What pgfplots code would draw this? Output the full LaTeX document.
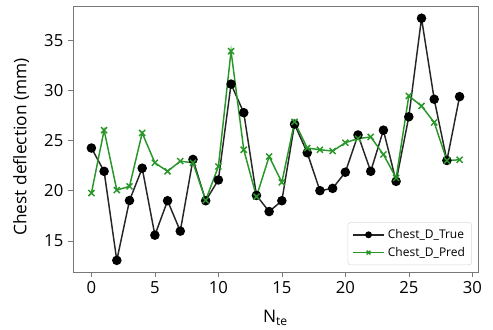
\documentclass[border=0pt]{standalone}
\usepackage{fontspec}
\setmainfont{Open Sans}
\usepackage{pgfplots}
\pgfplotsset{compat=1.18}
\definecolor{tgreen}{RGB}{40,150,40}
\definecolor{frame}{RGB}{120,120,120}
\begin{document}
\begin{tikzpicture}
\begin{axis}[
  scale only axis,
  width=303.75pt, height=199.5pt,
  xmin=-1.45, xmax=30.45,
  ymin=11.9, ymax=38.4,
  xtick={0,5,...,30},
  ytick={15,20,...,35},
  tick align=outside,
  tick pos=left,
  major tick length=3.75pt,
  axis line style={frame},
  every tick/.style={frame},
  /pgf/number format/assume math mode=true,
  ticklabel style={font=\fontsize{12.5pt}{14pt}\selectfont},
  label style={font=\fontsize{13pt}{15pt}\selectfont},
  xlabel={N\textsubscript{te}},
  ylabel={Chest deflection (mm)},
  xlabel style={at={(axis description cs:0.5,0)}, anchor=center, yshift=-34.5pt},
  ylabel style={at={(axis description cs:-0.128,0.47)}, anchor=center},
  legend style={at={(0.985,0.026)}, anchor=south east, draw=black!15, rounded corners=2pt,
    font=\fontsize{9pt}{11pt}\selectfont, row sep=1pt, inner sep=3pt},
  legend cell align=left,
  legend image code/.code={\draw[mark repeat=2,mark phase=2] plot coordinates {(0cm,0cm)(0.42cm,0cm)(0.84cm,0cm)};},
  legend image post style={mark size=2pt},
]
\addplot[black!85, line width=1.1pt, mark=*, mark size=3pt, mark options={fill=black, draw=black}]
 coordinates {
(0,24.25)(1,21.93)(2,13.06)(3,19.02)(4,22.24)(5,15.57)(6,19.0)(7,15.97)(8,23.11)(9,19.0)
(10,21.07)(11,30.62)(12,27.77)(13,19.53)(14,17.92)(15,19.0)(16,26.63)(17,23.78)(18,20.0)(19,20.23)
(20,21.84)(21,25.55)(22,21.93)(23,26.03)(24,20.93)(25,27.36)(26,37.18)(27,29.11)(28,23.01)(29,29.37)
};
\addlegendentry{Chest\_D\_True}
\addplot[tgreen, line width=1.1pt, mark=x, mark size=3.2pt]
 coordinates {
(0,19.76)(1,26.03)(2,20.06)(3,20.43)(4,25.75)(5,22.78)(6,21.93)(7,22.94)(8,22.78)(9,19.05)
(10,22.41)(11,33.9)(12,24.08)(13,19.4)(14,23.41)(15,20.83)(16,26.86)(17,24.25)(18,24.08)(19,23.95)
(20,24.78)(21,25.19)(22,25.35)(23,23.61)(24,21.27)(25,29.44)(26,28.44)(27,26.8)(28,23.0)(29,23.08)
};
\addlegendentry{Chest\_D\_Pred}
\end{axis}
\pgfresetboundingbox
\path ([xshift=-54.75pt,yshift=-43.5pt]current axis.south west) rectangle ([xshift=11.25pt,yshift=4.5pt]current axis.north east);
\end{tikzpicture}
\end{document}
